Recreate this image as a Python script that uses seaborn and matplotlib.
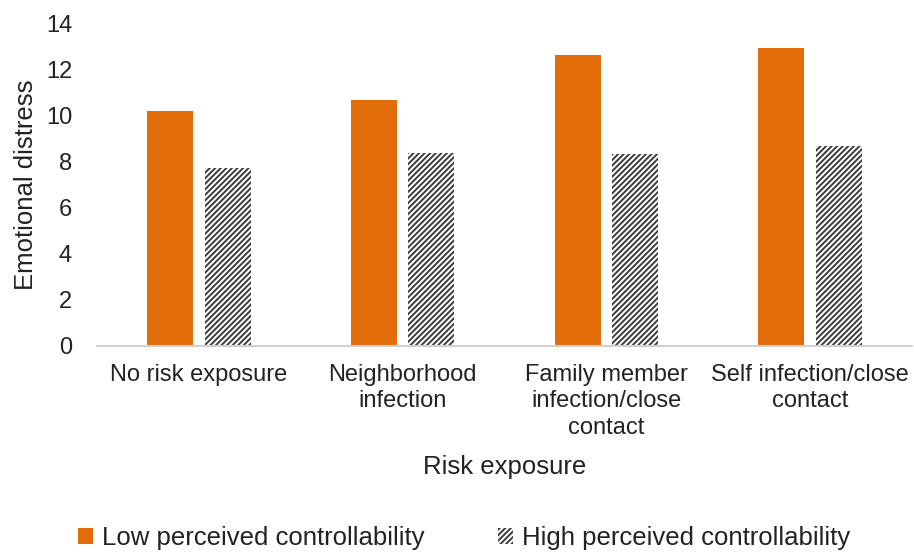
import matplotlib
matplotlib.use("Agg")
import matplotlib.pyplot as plt
import seaborn as sns
import pandas as pd
from matplotlib.patches import Patch

categories = [
    "No risk exposure",
    "Neighborhood\ninfection",
    "Family member\ninfection/close\ncontact",
    "Self infection/close\ncontact",
]
series_names = ["Low perceived controllability", "High perceived controllability"]
low_values = [10.2, 10.68, 12.67, 12.97]
high_values = [7.75, 8.38, 8.36, 8.70]
y_ticks = [0, 2, 4, 6, 8, 10, 12, 14]

df = pd.DataFrame({
    "exposure": categories * 2,
    "group": [series_names[0]] * len(categories) + [series_names[1]] * len(categories),
    "distress": low_values + high_values,
})

sns.set_theme(style="white")
plt.rcParams["font.family"] = ["Liberation Sans", "DejaVu Sans"]
plt.rcParams["hatch.linewidth"] = 1.4
plt.rcParams["hatch.color"] = "#3c3c3c"

orange = "#E36C0A"
text_color = "#222222"
fig = plt.figure(figsize=(9.14, 5.54), dpi=100)
ax = fig.add_axes([97 / 914, 1 - 346 / 554, (912 - 97) / 914, (346 - 24) / 554])

sns.barplot(
    data=df, x="exposure", y="distress", hue="group",
    palette=[orange, "white"], width=0.564, gap=0.2, ax=ax,
    legend=False, saturation=1,
)

for bar in ax.containers[0]:
    bar.set_linewidth(0)
for bar in ax.containers[1]:
    bar.set_facecolor("white")
    bar.set_edgecolor("#3c3c3c")
    bar.set_hatch("//////")
    bar.set_linewidth(0)

ax.set_ylim(0, 14)
ax.set_yticks(y_ticks)
ax.set_xlim(-0.5, len(categories) - 0.5)
ax.tick_params(axis="both", length=0, labelsize=17, colors=text_color)
ax.tick_params(axis="y", pad=18)
ax.tick_params(axis="x", pad=13)
for lbl in ax.get_xticklabels():
    lbl.set_linespacing(1.25)

for side in ["top", "right", "left"]:
    ax.spines[side].set_visible(False)
ax.spines["bottom"].set_color("#d0d0d0")
ax.spines["bottom"].set_linewidth(1.5)

ax.set_xlabel("Risk exposure", fontsize=18.5, color=text_color)
ax.set_ylabel("Emotional distress", fontsize=18.5, color=text_color)
ax.xaxis.set_label_coords(0.5, -0.34)
ax.yaxis.set_label_coords(-0.072, 0.5)

handles = [
    Patch(facecolor=orange, edgecolor=orange, linewidth=0, label=series_names[0]),
    Patch(facecolor="white", edgecolor="#3c3c3c", hatch="//////", linewidth=0, label=series_names[1]),
]
fig.legend(
    handles=handles, loc="center", bbox_to_anchor=(464 / 914, 1 - 538 / 554),
    ncol=2, frameon=False, fontsize=18.5, handlelength=0.6, handleheight=0.6,
    handletextpad=0.35, columnspacing=2.85, labelcolor=text_color,
)

fig.savefig("out.png", dpi=100)
